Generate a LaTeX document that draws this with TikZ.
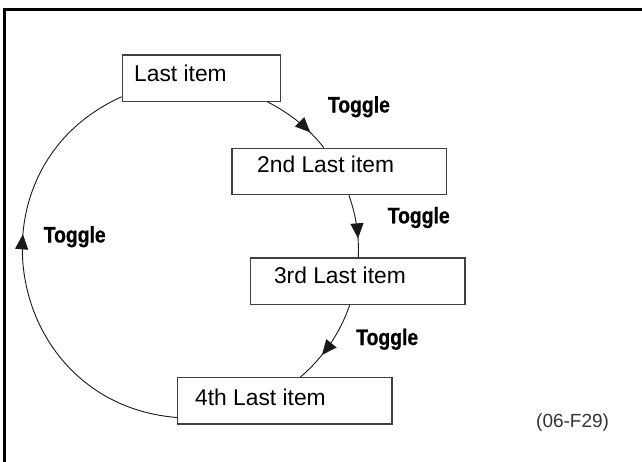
\documentclass[tikz,border=0pt]{standalone}
\usepackage{fontspec}
\setmainfont{Liberation Sans}
\newfontfamily\togglefont{Liberation Sans}[FakeStretch=0.86,FakeBold=0.6]
\usetikzlibrary{arrows.meta,decorations.markings}
\begin{document}
\begin{tikzpicture}[x=1pt,y=1pt,
  box/.style={draw=black!75, line width=1.2pt, inner sep=0pt, anchor=north west},
  itemtxt/.style={anchor=base west, inner sep=0pt, font=\fontsize{22.8}{26}\selectfont},
  toggletxt/.style={anchor=base west, inner sep=0pt, font=\togglefont\bfseries\fontsize{22.5}{25}\selectfont},
  conn/.style={draw=black!90, line width=0.9pt, postaction={decorate},
    decoration={markings, mark=at position #1 with {\arrow{Triangle[length=15pt,width=13pt]}}}},
]
\useasboundingbox (0,0) rectangle (642,-461);
\fill[white] (0,0) rectangle (642,-461);
\clip (0,0) rectangle (642,-461);
% frame
\draw[line width=3pt] (4.5,-470) -- (4.5,-9.5) -- (650,-9.5);
% boxes
\node[box, minimum width=158pt, minimum height=46.4pt] (b1) at (121.6,-54.3) {};
\node[box, minimum width=214.1pt, minimum height=46.3pt] (b2) at (231.4,-147.7) {};
\node[box, minimum width=214.3pt, minimum height=46.7pt] (b3) at (250,-257.3) {};
\node[box, minimum width=214.4pt, minimum height=46.3pt] (b4) at (177,-377) {};
% texts
\node[itemtxt] (t1) at (134,-81.3) {Last item};
\node[itemtxt] (t2) at (257,-172.3) {2nd Last item};
\node[itemtxt] (t3) at (273.8,-283) {3rd Last item};
\node[itemtxt] (t4) at (195,-405) {4th Last item};
\node[toggletxt] (g1) at (327.7,-112.5) {Toggle};
\node[toggletxt] (g2) at (387.5,-223.3) {Toggle};
\node[toggletxt] (g3) at (356,-345) {Toggle};
\node[toggletxt] (g4) at (43.5,-242.5) {Toggle};
\node[anchor=base west, inner sep=0pt, font=\fontsize{19}{22}\selectfont, text=black!80] (fig) at (536,-427) {(06-F29)};
% connectors
\draw[conn=0.72] ([xshift=146pt]b1.south west) to[out=-27.3, in=127.5, distance=24.7pt] ([xshift=92.4pt]b2.north west);
\draw[conn=0.7] ([xshift=117.5pt]b2.south west) to[out=-70.5, in=87.5, distance=21.5pt] ([xshift=108.3pt]b3.north west);
\draw[conn=0.65] ([xshift=99.6pt]b3.south west) to[out=-108.75, in=40.9, distance=29.8pt] ([xshift=123.5pt]b4.north west);
\draw[conn=0.6] ([yshift=-40.5pt]b4.north west) to[out=175.4, in=204.2, distance=173.8pt] ([yshift=-42.5pt]b1.north west);
\end{tikzpicture}
\end{document}
